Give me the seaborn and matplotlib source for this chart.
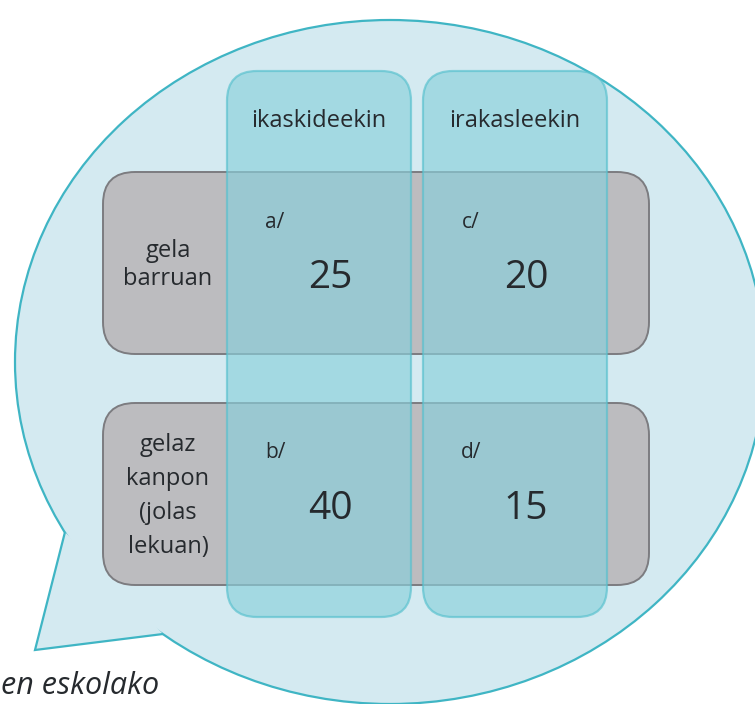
import matplotlib
matplotlib.use("Agg")
import matplotlib.pyplot as plt
from matplotlib.patches import Ellipse, FancyBboxPatch, Polygon
import seaborn as sns

# table content
row_labels = ["gela\nbarruan", "gelaz\nkanpon\n(jolas\nlekuan)"]
col_labels = ["ikaskideekin", "irakasleekin"]
cell_letters = [["a/", "c/"], ["b/", "d/"]]
cell_values = [[25, 20], [40, 15]]
footer = "en eskolako"

sns.set_theme(style="white")
plt.rcParams['font.family'] = ['Open Sans', 'DejaVu Sans']

# colours
bubble_fill = "#d4eaf1"
bubble_edge = "#3fb5c4"
gray_fill = "#bcbcbf"
gray_edge = "#7c7c80"
col_fill = "#89d0db"
col_edge = "#55c0cd"
txt = "#262a2e"

fig = plt.figure(figsize=(7.55, 7.04), dpi=100)
ax = fig.add_axes([0, 0, 1, 1])
ax.set_xlim(0, 755)
ax.set_ylim(704, 0)
ax.set_aspect("equal")
ax.axis("off")

# speech bubble
ax.add_patch(Ellipse((390, 362), 750, 684, facecolor=bubble_fill,
                     edgecolor=bubble_edge, lw=1.6, zorder=1))
tail = [(65, 532), (35, 650), (163, 634)]
ax.add_patch(Polygon(tail, closed=False, facecolor=bubble_fill,
                     edgecolor=bubble_edge, lw=1.6, zorder=1.5))
ax.text(1, 694, footer, ha="left", va="baseline", fontsize=22,
        style="italic", color=txt, zorder=5)

# grid geometry
row_top = [172, 403]
row_h = 182
gray_x0, gray_x1 = 103, 649
col_left = [227, 423]
col_w = 184
col_y0, col_y1 = 71, 617

for i, lab in enumerate(row_labels):
    ax.add_patch(FancyBboxPatch((gray_x0, row_top[i]), gray_x1 - gray_x0, row_h,
                                boxstyle="round,pad=0,rounding_size=32",
                                facecolor=gray_fill, edgecolor=gray_edge,
                                lw=1.4, zorder=2))
    ax.text(168, row_top[i] + row_h / 2 + 2, lab, ha="center", va="center",
            fontsize=17, color=txt, linespacing=1.25 if i == 0 else 1.55,
            zorder=5)

for j, lab in enumerate(col_labels):
    ax.add_patch(FancyBboxPatch((col_left[j], col_y0), col_w, col_y1 - col_y0,
                                boxstyle="round,pad=0,rounding_size=30",
                                facecolor=col_fill, edgecolor=col_edge,
                                lw=1.6, alpha=0.65, zorder=3))
    ax.text(col_left[j] + col_w / 2, 121, lab, ha="center", va="center",
            fontsize=17, color=txt, zorder=5)

for i in range(2):
    for j in range(2):
        ax.text(col_left[j] + 48, row_top[i] + 50, cell_letters[i][j],
                ha="center", va="center", fontsize=15, color=txt, zorder=5)
        ax.text(col_left[j] + col_w / 2 + 11, row_top[i] + 106,
                str(cell_values[i][j]), ha="center", va="center",
                fontsize=28, color=txt, zorder=5)

fig.savefig("out.png", dpi=100)
